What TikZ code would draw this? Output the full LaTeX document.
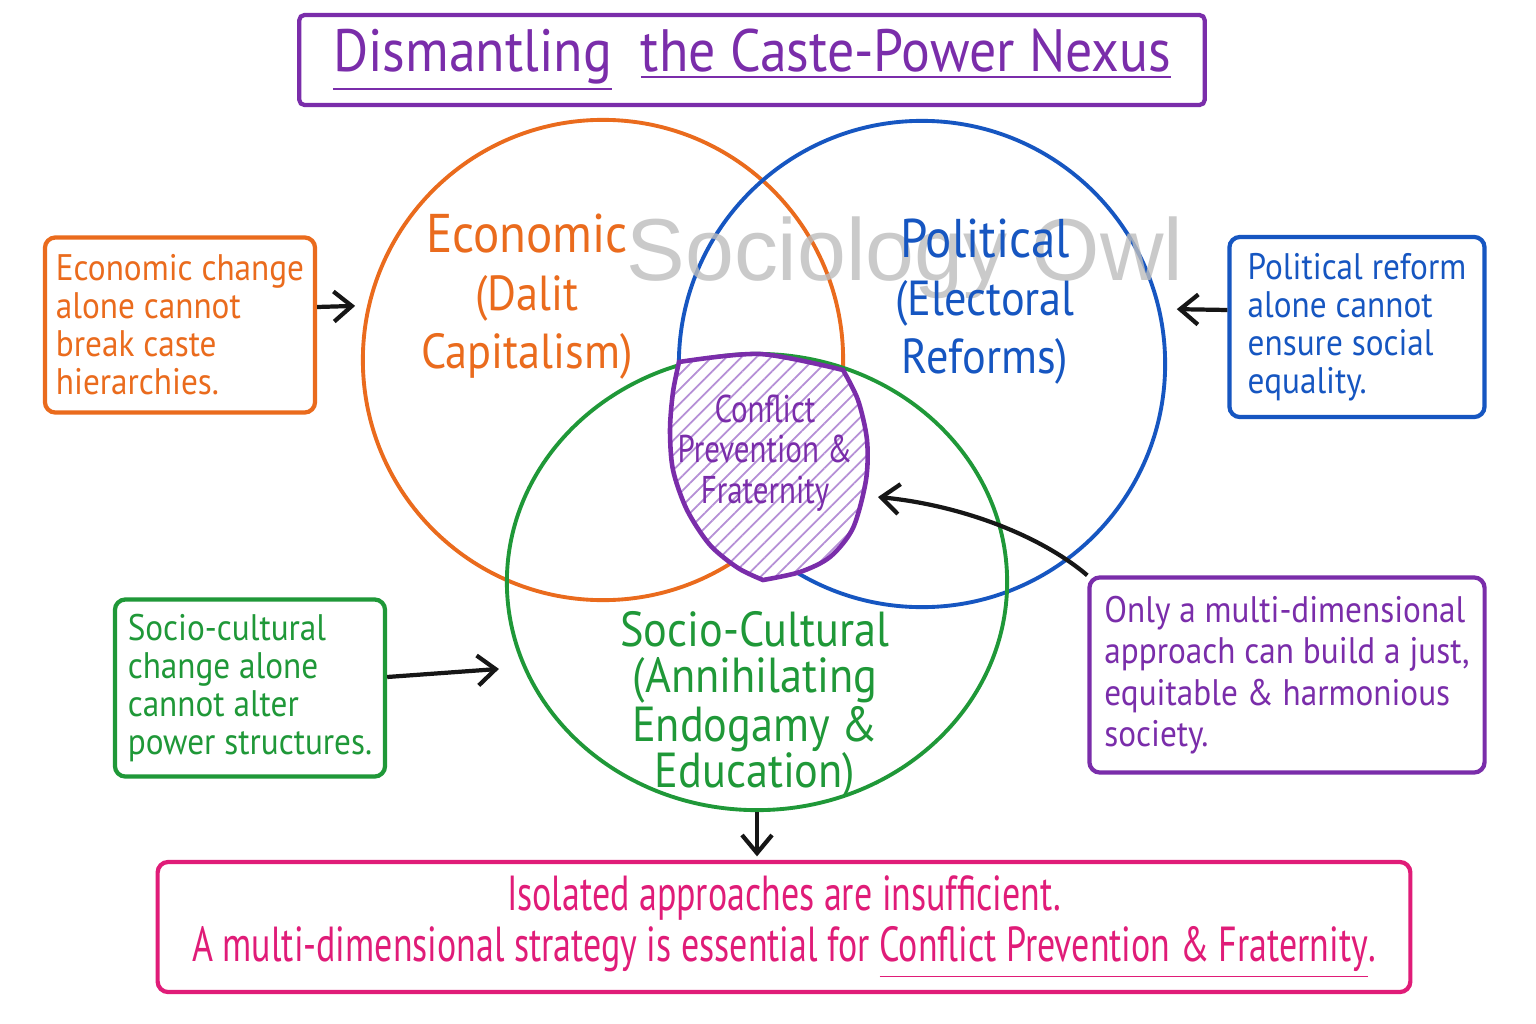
\documentclass[tikz,border=0pt]{standalone}
\usepackage{fontspec}
\setmainfont{PT Sans}[FakeStretch=0.9]
\newfontfamily\slimhand{PT Sans}[FakeStretch=0.8]
\newfontfamily\narrowhand{PT Sans}[FakeStretch=0.73]
\newfontfamily\markfont{Liberation Sans}
\definecolor{ink}      {HTML}{161616}
\definecolor{tangerine}{HTML}{EA6B1D}
\definecolor{cobalt}   {HTML}{1656C1}
\definecolor{leaf}     {HTML}{1F9838}
\definecolor{plum}     {HTML}{7A2DAA}
\definecolor{fuchsia}  {HTML}{E01C78}
\definecolor{lilac}    {HTML}{B58FD6}
\definecolor{ash}      {HTML}{BDBDBD}
\usetikzlibrary{positioning,arrows.meta,shapes.geometric,patterns.meta}
\tikzset{
  ring/.style={line width=1.1pt,inner sep=0pt},
  note/.style={line width=1.2pt,rounded corners=3pt,fill=white,inner sep=0pt,
               align=left,font=\fontsize{10.5}{10.8}\selectfont},
  head/.style={align=center,font=\fontsize{14}{16.5}\selectfont},
  flow/.style={-{Straight Barb[length=1.8mm,width=3mm]},line width=1.2pt,draw=ink},
  nexus/.style={draw=plum,line width=1.3pt,preaction={fill=white},
                pattern={Lines[angle=45,distance=3pt,line width=0.5pt]},
                pattern color=lilac}
}

\begin{document}
\begin{tikzpicture}[x=0.01cm,y=-0.01cm]
  \useasboundingbox[fill=white] (0,0) rectangle (1536,1024);

  \node[draw=plum,line width=1.2pt,rounded corners=1.5pt,minimum width=9.05cm,
        minimum height=0.9cm,text=plum,font=\fontsize{17}{17}\selectfont] (title) at (752,60)
        {\underline{Dismantling}\ \ \underline{the Caste-Power Nexus}};

  \node[ring,circle,draw=tangerine,minimum size=4.8cm] (eco) at (603,360) {};
  \node[ring,circle,draw=cobalt,minimum size=4.86cm] (pol) at (922,364) {};
  \node[ring,ellipse,draw=leaf,minimum width=5cm,minimum height=4.56cm] (soc) at (757,582) {};

  % shared core of the three circles
  \draw[nexus] plot[smooth] coordinates {(679,362) (760,354) (843,370)}
    -- plot[smooth] coordinates {(843,370) (858,400) (867,440) (866,480) (853,528)
                                 (830,557) (800,572) (763,580)}
    -- plot[smooth] coordinates {(763,580) (738,568) (710,545) (687,510) (673,470)
                                 (670,430) (673,392) (679,362)} -- cycle;

  \node[text=ash,opacity=0.8,anchor=base,font=\markfont\fontsize{25}{25}\selectfont] (mark)
        at (905,280) {Sociology Owl};

  \node[head,text=tangerine] (ecolbl) at (527,297)
        {{\fontsize{15.5}{16.5}\selectfont Economic}\\(Dalit\\Capitalism)};
  \node[head,text=cobalt] (pollbl) at (985,302)
        {{\fontsize{15.5}{16.5}\selectfont Political}\\(Electoral\\Reforms)};
  \node[head,text=plum,font=\slimhand\fontsize{11}{11.6}\selectfont] (nexlbl) at (765,453)
        {Conflict\\Prevention \&\\Fraternity};
  \node[head,text=leaf,font=\fontsize{14}{13}\selectfont] (soclbl) at (755,705)
        {Socio-Cultural\\(Annihilating\\Endogamy \&\\Education)};

  \node[note,draw=tangerine,text=tangerine,minimum width=2.7cm,minimum height=1.75cm] (ecobox)
        at (180,325) {Economic change\\alone cannot\\break caste\\hierarchies.};
  \node[note,draw=cobalt,text=cobalt,minimum width=2.55cm,minimum height=1.8cm] (polbox)
        at (1357,327) {Political reform\\alone cannot\\ensure social\\equality.};
  \node[note,draw=leaf,text=leaf,minimum width=2.7cm,minimum height=1.77cm] (socbox)
        at (250,688) {Socio-cultural\\change alone\\cannot alter\\power structures.};
  \node[note,draw=plum,text=plum,minimum width=3.95cm,minimum height=1.95cm,
        font=\fontsize{10.5}{11.8}\selectfont] (onlybox)
        at (1287,675) {Only a multi-dimensional\\approach can build a just,\\equitable \& harmonious\\society.};
  \node[note,draw=fuchsia,text=fuchsia,align=center,minimum width=12.52cm,minimum height=1.3cm,
        font=\narrowhand\fontsize{14}{14.5}\selectfont] (endbox) at (784,927)
        {Isolated approaches are insufficient.\\A multi-dimensional strategy is essential for
         \underline{Conflict Prevention \& Fraternity}.};

  \coordinate (nextip) at (878,497);

  \draw[flow,shorten >=1.2mm] ([yshift=0.18cm]ecobox.east) -- (eco.167);
  \draw[flow,shorten >=1.6mm] ([yshift=0.17cm]polbox.west) -- (pol.13);
  \draw[flow,shorten >=2.4mm] ([yshift=0.11cm]socbox.east) -- (soc.200);
  \draw[flow] (onlybox.north west) .. controls (1040,535) and (960,505) .. (nextip);
  \draw[flow,shorten >=1pt] (soc.south) -- (soc.south |- endbox.north);
\end{tikzpicture}
\end{document}
